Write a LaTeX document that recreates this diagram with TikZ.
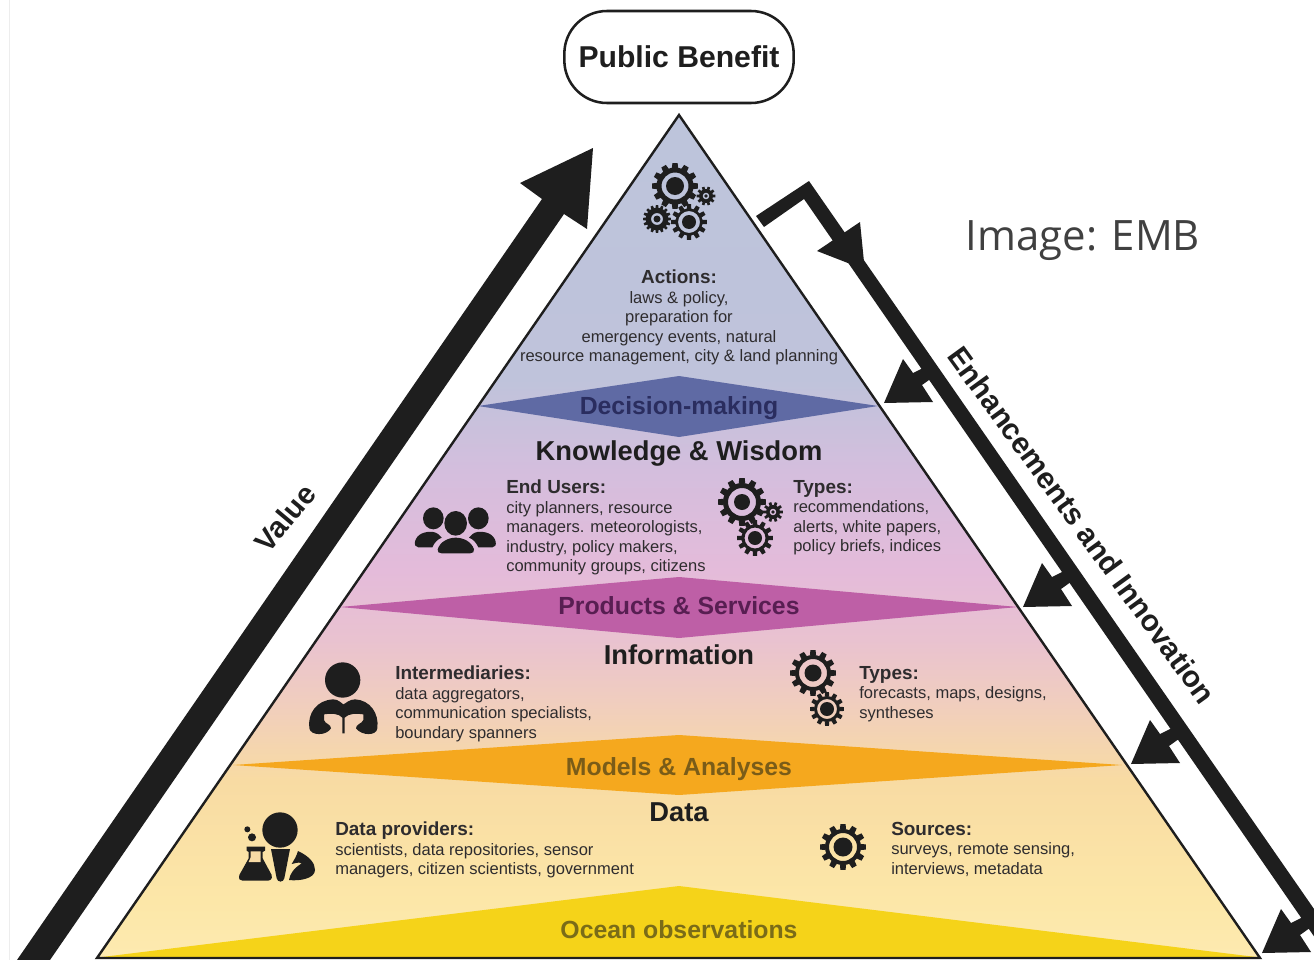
\documentclass[tikz,border=0pt]{standalone}
\usepackage{fontspec}
\setmainfont{Liberation Sans}
\newfontfamily\imgfont{Open Sans}
\definecolor{ink}{HTML}{1E1E1E}
\definecolor{txt}{HTML}{2E2C2E}
\definecolor{cA}{HTML}{BDC4DB}
\definecolor{cB}{HTML}{BFC3DB}
\definecolor{cC}{HTML}{D4BEDD}
\definecolor{cD}{HTML}{E4BBDA}
\definecolor{cE}{HTML}{E9C2D0}
\definecolor{cF}{HTML}{F0CDBF}
\definecolor{cG}{HTML}{F8DBA3}
\definecolor{cH}{HTML}{FCE7A8}
\definecolor{cI}{HTML}{FDEAB0}
\pgfdeclareverticalshading{pyrshade}{100bp}{
 color(0bp)=(cI); color(25bp)=(cI); color(28.4bp)=(cH); color(35.6bp)=(cG);
 color(40.3bp)=(cF); color(43.9bp)=(cE); color(48bp)=(cD); color(53.9bp)=(cC);
 color(59.3bp)=(cB); color(75bp)=(cA); color(100bp)=(cA)}
\newcommand{\hdfont}{\fontsize{14.2pt}{14.6pt}\selectfont\bfseries}
\newcommand{\bdfont}{\fontsize{12.4pt}{14.6pt}\selectfont}
\newcommand{\midfont}{\fontsize{18.6pt}{20pt}\selectfont\bfseries}
\newcommand{\lvlfont}{\fontsize{20.5pt}{22pt}\selectfont\bfseries}
% center x, y, tooth radius, body radius, hole radius, core radius, teeth
\newcommand{\gearicon}[7]{%
 \begin{scope}[shift={(#1,#2)}]
  \fill[ink,even odd rule] (0,0) circle[radius=#4] (0,0) circle[radius=#5];
  \fill[ink] (0,0) circle[radius=#6];
  \pgfmathsetmacro{\gw}{360/#7*0.27}
  \foreach \k in {1,...,#7}{
   \pgfmathsetmacro{\ga}{\k*360/#7}
   \fill[ink] ({\ga-1.25*\gw}:#4-0.4) -- ({\ga-0.8*\gw}:#3) -- ({\ga+0.8*\gw}:#3) -- ({\ga+1.25*\gw}:#4-0.4) -- cycle;
  }
 \end{scope}}
% side-branch arrowhead on the right-hand bar, by its lower-left corner
\newcommand{\branchhead}[2]{%
 \fill[ink,shift={(#1,#2)}] (0,0) -- (19,-44) -- (29,-30) -- (45,-38) -- (52,-28) -- (38,-18) -- (49,-1) -- cycle;}
\tikzset{
 bodytext/.style={anchor=north west,inner sep=0pt,align=left,text=txt,font=\bdfont},
 midlabel/.style={inner sep=0pt,font=\midfont},
 lvllabel/.style={inner sep=0pt,text=ink,font=\lvlfont},
 iconscope/.style={x=0.25pt,y=-0.25pt}
}
\begin{document}
\begin{tikzpicture}[x=0.75pt,y=-0.75pt]
\useasboundingbox (0,0) rectangle (1314,960);
\clip (0,0) rectangle (1314,960);
\fill[white] (0,0) rectangle (1314,960);
\draw[black!7,line width=0.75pt] (9,0) -- (9,960);

% pyramid
\coordinate (apex) at (679,115);
\coordinate (baseL) at (97,958);
\coordinate (baseR) at (1260,958);
\shade[shading=pyrshade] (apex) -- (baseR) -- (baseL) -- cycle;
% diamonds
\fill[fill={rgb,255:red,95;green,106;blue,164}] (478,406) -- (679,376) -- (878,406) -- (679,437) -- cycle;
\fill[fill={rgb,255:red,190;green,95;blue,166}] (340,607) -- (679,577) -- (1018,607) -- (679,638) -- cycle;
\fill[fill={rgb,255:red,245;green,168;blue,30}] (233,765) -- (679,735) -- (1122,765) -- (679,795) -- cycle;
\fill[fill={rgb,255:red,245;green,211;blue,25}] (102,957) -- (679,886) -- (1256,957) -- cycle;
\draw[ink,line width=1.8pt,line join=miter] (apex) -- (baseR) -- (baseL) -- cycle;

% public benefit
\node[draw=ink,line width=1.9pt,rounded corners=32pt,minimum width=172pt,minimum height=69pt,inner sep=0pt,text=ink,font=\fontsize{22.6pt}{24pt}\selectfont\bfseries] (benefit) at (679,57) {Public Benefit};

% left arrow
\fill[ink] (17,960) -- (542,199) -- (520,183) -- (593,148) -- (587,229) -- (564,214) -- (50,960) -- cycle;
\node[inner sep=0pt,rotate=50,text=ink,font=\fontsize{22pt}{24pt}\selectfont\bfseries] (valuelabel) at (285,518) {Value};

% right arrow
\fill[ink] (756,216) -- (809,181) -- (1339,945) -- (1320,945) -- (804,199) -- (764,227) -- cycle;
\fill[ink] (860,222) -- (817,251) -- (853,265) -- (864,262) -- cycle;
\branchhead{884}{403}
\branchhead{1023}{607}
\branchhead{1131}{764}
\branchhead{1262}{953}
\node[inner sep=0pt,rotate=-54,text=ink,font=\fontsize{22.4pt}{24pt}\selectfont\bfseries] (enhlabel) at (1082,525) {Enhancements and Innovation};

\node[inner sep=0pt,text={rgb,255:red,64;green,64;blue,64},font=\imgfont\fontsize{31.4pt}{33pt}\selectfont] (credit) at (1083,241) {Image: EMB};

% level labels
\node[midlabel,text={rgb,255:red,42;green,45;blue,95}] (decision) at (679,408) {Decision-making};
\node[lvllabel] (knowledge) at (679,453) {Knowledge \& Wisdom};
\node[midlabel,text={rgb,255:red,88;green,30;blue,82}] (products) at (679,606) {Products \& Services};
\node[lvllabel] (information) at (679,655) {Information};
\node[midlabel,text={rgb,255:red,122;green,92;blue,24}] (models) at (679,769) {Models \& Analyses};
\node[lvllabel] (datalabel) at (679,812) {Data};
\node[midlabel,text={rgb,255:red,122;green,108;blue,24}] (ocean) at (679,930) {Ocean observations};

% text blocks
\node[bodytext,anchor=north,align=center] (actions) at (679,270) {{\hdfont Actions:}\\laws \& policy,\\preparation for\\emergency events, natural\\resource management, city \& land planning};
\node[bodytext] (endusers) at (506,480) {{\hdfont End Users:}\\city planners, resource\\managers. meteorologists,\\industry, policy makers,\\community groups, citizens};
\node[bodytext] (types1) at (793,480) {{\hdfont Types:}\\recommendations,\\alerts, white papers,\\policy briefs, indices};
\node[bodytext] (intermed) at (395,666) {{\hdfont Intermediaries:}\\data aggregators,\\communication specialists,\\boundary spanners};
\node[bodytext] (types2) at (859,666) {{\hdfont Types:}\\forecasts, maps, designs,\\syntheses};
\node[bodytext] (providers) at (335,822) {{\hdfont Data providers:}\\scientists, data repositories, sensor\\managers, citizen scientists, government};
\node[bodytext] (sources) at (891,822) {{\hdfont Sources:}\\surveys, remote sensing,\\interviews, metadata};

% gears
\gearicon{675}{186}{23}{18.5}{13.5}{9}{12}
\gearicon{706}{196}{9.5}{7}{3.4}{1.8}{10}
\gearicon{657}{219}{14}{11.5}{6}{3.5}{16}
\gearicon{689}{222}{18}{13.5}{11}{7}{12}
\gearicon{742}{502}{24}{19}{14}{8}{12}
\gearicon{773}{512}{10}{7}{3.4}{1.8}{10}
\gearicon{755}{538}{18}{13.5}{10.5}{7}{12}
\gearicon{813}{673}{23}{18}{14}{8.5}{12}
\gearicon{827}{709}{17}{13}{10}{7}{12}
\gearicon{843}{847}{23}{18}{14}{9.5}{12}

% three people
\begin{scope}[shift={(400,470)},iconscope]
 \fill[ink] (100,145) ellipse[x radius=31,y radius=33];
 \fill[ink] (235,145) ellipse[x radius=31,y radius=33];
 \fill[ink] (167,160) ellipse[x radius=34,y radius=37];
 \fill[ink] (45,215) .. controls (50,192) and (75,183) .. (100,186) .. controls (112,188) and (118,195) .. (125,203) .. controls (112,208) and (103,218) .. (97,232) -- (55,232) .. controls (47,232) and (43,225) .. (45,215) -- cycle;
 \fill[ink] (287,215) .. controls (282,192) and (257,183) .. (232,186) .. controls (220,188) and (214,195) .. (207,203) .. controls (220,208) and (229,218) .. (235,232) -- (277,232) .. controls (285,232) and (289,225) .. (287,215) -- cycle;
 \fill[ink] (113,238) .. controls (120,215) and (145,203) .. (167,203) .. controls (190,203) and (215,215) .. (222,238) .. controls (224,246) and (218,250) .. (210,250) -- (125,250) .. controls (117,250) and (111,246) .. (113,238) -- cycle;
\end{scope}

% intermediary with book
\begin{scope}[shift={(220,650)},iconscope]
 \fill[ink] (368,90) circle[radius=53];
 \fill[ink] (268,235) .. controls (262,190) and (290,150) .. (340,148) .. controls (355,148) and (365,160) .. (370,163) .. controls (378,160) and (388,148) .. (405,148) .. controls (450,150) and (478,190) .. (472,235) .. controls (470,258) and (425,258) .. (408,235) .. controls (408,222) and (425,222) .. (430,210) -- (430,193) .. controls (410,190) and (385,190) .. (374,203) -- (374,250) -- (367,250) -- (367,203) .. controls (356,190) and (335,190) .. (312,193) -- (312,210) .. controls (315,222) and (333,222) .. (333,235) .. controls (320,258) and (272,258) .. (268,235) -- cycle;
\end{scope}

% scientist with flask
\begin{scope}[shift={(220,650)},iconscope]
 \fill[ink] (180,540) circle[radius=53];
 \fill[ink] (82,538) circle[radius=9];
 \fill[ink] (96,562) circle[radius=12];
 \fill[ink] (153,597) -- (210,597) -- (193,685) .. controls (190,698) and (173,698) .. (170,685) -- cycle;
 \fill[ink] (234,603) .. controls (270,620) and (285,640) .. (285,660) .. controls (285,685) and (240,694) .. (207,690) .. controls (210,670) and (222,655) .. (245,640) .. controls (235,635) and (225,640) .. (215,642) .. controls (222,630) and (230,618) .. (234,603) -- cycle;
 \fill[ink] (80,590) -- (135,590) -- (135,602) -- (128,606) -- (128,625) -- (155,675) .. controls (158,688) and (150,692) .. (145,692) -- (68,692) .. controls (60,692) and (55,688) .. (58,675) -- (86,625) -- (86,606) -- (80,602) -- cycle;
 \fill[fill={rgb,255:red,247;green,219;blue,165}] (92,604) -- (122,604) -- (122,636) -- (86,636) -- (92,622) -- cycle;
\end{scope}
\end{tikzpicture}
\end{document}
